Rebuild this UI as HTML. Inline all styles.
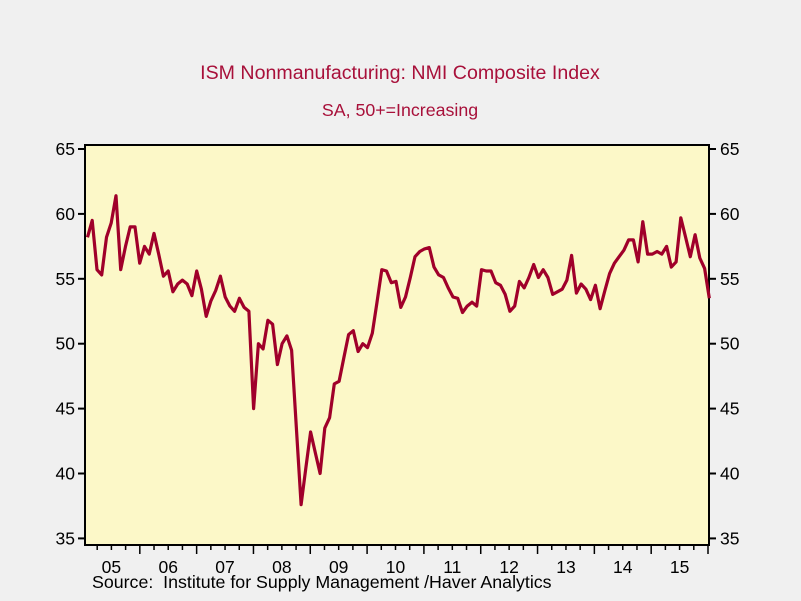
<!DOCTYPE html>
<html><head><meta charset="utf-8"><style>
body{margin:0;background:#f0f0f0;}
svg{display:block;font-family:"Liberation Sans",sans-serif;}
</style></head><body>
<svg width="801" height="601">
<rect x="0" y="0" width="801" height="601" fill="#f0f0f0"/>
<text x="400" y="79" text-anchor="middle" font-size="19.6" fill="#a8103a">ISM Nonmanufacturing: NMI Composite Index</text>
<text x="400" y="116" text-anchor="middle" font-size="17.8" fill="#a8103a">SA, 50+=Increasing</text>
<rect x="85" y="145" width="624" height="400" fill="#fcf8c8" stroke="#000" stroke-width="2"/>
<g id="axes"></g>
<polyline id="line" fill="none" stroke="#a0002a" stroke-width="3.2" stroke-linejoin="round"/>
<text x="92" y="588" font-size="17.8" fill="#000" xml:space="preserve">Source:  Institute for Supply Management /Haver Analytics</text>
</svg>
<script>
const yTicks=[35,40,45,50,55,60,65];
const yearLabels=["05","06","07","08","09","10","11","12","13","14","15"];
const values=[58.2,59.5,55.7,55.3,58.2,59.3,61.4,55.7,57.5,59.0,59.0,56.2,
57.5,56.9,58.5,56.9,55.2,55.6,54.0,54.6,54.9,54.6,53.7,55.6,
54.2,52.1,53.3,54.1,55.2,53.6,52.9,52.5,53.5,52.8,52.5,45.0,
50.0,49.6,51.8,51.5,48.4,50.0,50.6,49.5,43.6,37.6,40.4,43.2,
41.6,40.0,43.5,44.3,46.9,47.1,48.9,50.7,51.0,49.4,50.0,49.7,
50.8,53.2,55.7,55.6,54.7,54.8,52.8,53.6,55.1,56.7,57.1,57.3,
57.4,55.9,55.3,55.1,54.3,53.6,53.5,52.4,52.9,53.2,52.9,55.7,
55.6,55.6,54.7,54.5,53.8,52.5,52.9,54.8,54.3,55.1,56.1,55.1,
55.7,55.1,53.8,54.0,54.2,54.9,56.8,53.9,54.6,54.2,53.4,54.5,
52.7,54.1,55.4,56.2,56.7,57.2,58.0,58.0,56.3,59.4,56.9,56.9,
57.1,56.9,57.5,55.9,56.3,59.7,58.2,56.7,58.4,56.6,55.8,53.5];
const NS="http://www.w3.org/2000/svg";
const y=v=>149+(65-v)*12.98;
const x0=83,x1=708;
const xi=i=>87.5+i*(709.3-87.5)/(values.length-1);
const xYear=t=>x0+t*(x1-x0)/yearLabels.length;
const g=document.getElementById('axes');
function mk(tag,attrs){const e=document.createElementNS(NS,tag);for(const k in attrs)e.setAttribute(k,attrs[k]);g.appendChild(e);return e;}
yTicks.forEach(v=>{
 const l=mk('line',{x1:78,x2:85,y1:y(v),y2:y(v),stroke:'#000','stroke-width':2});
 
 
 const r=mk('line',{x1:709,x2:716,y1:y(v),y2:y(v),stroke:'#000','stroke-width':2});
 
 
 const t=mk('text',{x:75,y:y(v)+6,'text-anchor':'end','font-size':17.5});
 t.textContent=v;
 
 
 const t2=mk('text',{x:720,y:y(v)+6,'font-size':17.5});
 t2.textContent=v;
 
 
});
for(let q=0;q<=yearLabels.length*4;q++){
 const xx=xYear(q/4);
 if(xx<85||xx>709.5)continue;
 const major=q%4===0;
 const l=mk('line',{x1:xx,x2:xx,y1:546,y2:major?554:550,stroke:'#000','stroke-width':1.5});
 
 
}
yearLabels.forEach((s,i)=>{
 const t=mk('text',{x:xYear(i+0.5),y:573,'text-anchor':'middle','font-size':17.5});
 t.textContent=s;
 
 
});
document.getElementById('line').setAttribute('points',values.map((v,i)=>xi(i).toFixed(1)+','+y(v).toFixed(1)).join(' '));
</script>
</body></html>
